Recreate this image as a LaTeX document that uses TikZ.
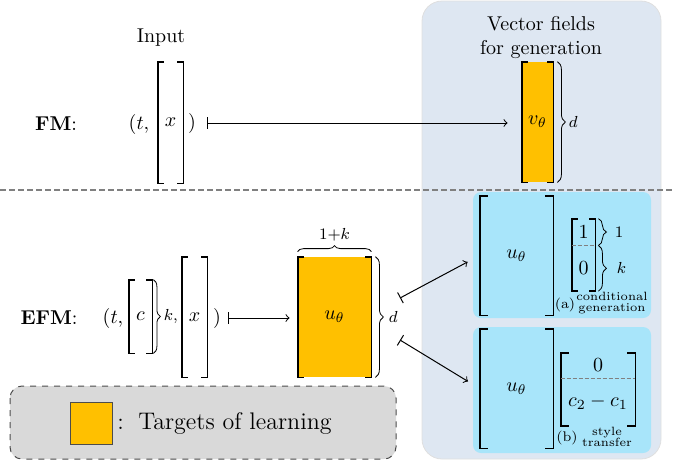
\documentclass[tikz,border=0pt]{standalone}
\usepackage{amsmath,amssymb}
\usetikzlibrary{arrows,calc,positioning,decorations.pathreplacing}

\definecolor{learn}{HTML}{FFC000}
\definecolor{fieldbg}{HTML}{DEE7F2}
\definecolor{casebg}{HTML}{A8E5FA}

% square brackets round a column, from node #2 (top) to node #3 (bottom)
\newcommand{\vbrackets}[3][3pt]{%
  \draw[bracket] ([xshift=#1]#2.north west) -- (#2.north west) -- (#3.south west) -- ([xshift=#1]#3.south west);
  \draw[bracket] ([xshift=-#1]#2.north east) -- (#2.north east) -- (#3.south east) -- ([xshift=-#1]#3.south east);}

\begin{document}
\begin{tikzpicture}[x=0.5pt,y=-0.5pt,>=to,
  vec/.style 2 args={inner sep=0pt, minimum width=#1, minimum height=#2},
  bracket/.style={line width=0.9pt},
  brace/.style={decorate, decoration={brace,amplitude=#1}},
  brace/.default=4pt,
  lab/.style={inner sep=1pt, font=\footnotesize},
  caption/.style={inner sep=0pt, align=center, font=\fontsize{6}{7}\selectfont},
  tag/.style={inner sep=0pt, font=\fontsize{7}{8}\selectfont},
  split/.style={gray, dash pattern=on 2pt off 1pt, line width=0.6pt},
  maps/.style={|->, line width=0.5pt}]
  \useasboundingbox (0,0) rectangle (673,463);

  % panel of vector fields and the two rows
  \draw[fill=fieldbg, draw=gray!25, rounded corners=10pt] (422,1) rectangle (661,459);
  \draw[gray, dash pattern=on 3pt off 1.5pt, line width=0.6pt] (0,190) -- (673,190);
  \fill[casebg, rounded corners=4pt] (473,192) rectangle (651,318);
  \fill[casebg, rounded corners=4pt] (473,327) rectangle (651,453);

  \node (input) at (161,38) {Input};
  \node[align=center] (fields) at (541,37) {Vector fields\\for generation};

  % FM row
  \node (fm) at (56,124) {\textbf{FM}:};
  \node (fmt) at (139,124) {$(t,$};
  \node[vec={12.5pt}{60.5pt}] (fmx) at (170.5,122.5) {$x$};
  \node (fmrp) at (192,123) {$)$};
  \node[vec={15.5pt}{60pt}, fill=learn] (vt) at (537.5,122) {$v_\theta$};
  \vbrackets{fmx}{fmx}
  \vbrackets{vt}{vt}
  \draw[brace] ([xshift=2pt]vt.north east) -- ([xshift=2pt]vt.south east) node[midway, lab, right=4.5pt] {$d$};
  \draw[maps, shorten <=2pt, shorten >=7pt] (fmrp.east) -- (fmrp.east -| vt.west);

  % EFM row
  \node (efm) at (49,318) {\textbf{EFM}:};
  \node (eft) at (113,318) {$(t,$};
  \node[vec={11.5pt}{36.5pt}] (efc) at (140.5,316.5) {$c$};
  \node[vec={12.5pt}{60pt}] (efx) at (194.5,317) {$x$};
  \node (efrp) at (217,318) {$)$};
  \node[vec={36.5pt}{60pt}, fill=learn] (ut) at (334.5,317) {$u_\theta$};
  \vbrackets{efc}{efc}
  \vbrackets{efx}{efx}
  \vbrackets{ut}{ut}
  \draw[brace=3.5pt] ([xshift=0.5pt]efc.north east) -- ([xshift=0.5pt]efc.south east) node[midway, lab, right=4pt] {$k,$};
  \draw[brace=3pt] ([yshift=2.5pt]ut.north west) -- ([yshift=2.5pt]ut.north east) node[midway, lab, above=4pt] {$1{+}k$};
  \draw[brace] ([xshift=2pt]ut.north east) -- ([xshift=2pt]ut.south east) node[midway, lab, right=5.5pt] (d) {$d$};
  \draw[maps, shorten >=4pt] (efrp.east) -- (efrp.east -| ut.west);

  % (a) conditional generation
  \node[vec={36.5pt}{59.5pt}] (ua) at (516.5,255.5) {$u_\theta$};
  \node[vec={11.5pt}{13pt}] (va1) at (583.5,232) {$1$};
  \node[vec={11.5pt}{22.5pt}, below=0pt of va1] (va0) {$0$};
  \vbrackets[4pt]{ua}{ua}
  \vbrackets{va1}{va0}
  \draw[split] (va1.south west) -- (va1.south east);
  \draw[brace] ([xshift=1.5pt]va1.north east) -- ([xshift=1.5pt]va1.south east) node[midway, lab, right=7pt] {$1$};
  \draw[brace] ([xshift=1.5pt]va0.north east) -- ([xshift=1.5pt]va0.south east) node[midway, lab, right=8pt] {$k$};
  \node[tag] (capa) at (565,305) {(a)};
  \node[caption] (capatxt) at (612,303.5) {conditional\\[-1.5pt]generation};

  % (b) style transfer
  \node[vec={36.5pt}{59.5pt}] (ub) at (516.5,388.5) {$u_\theta$};
  \node[vec={37pt}{12.5pt}] (vb1) at (598,365.5) {$0$};
  \node[vec={37pt}{23.5pt}, below=0pt of vb1] (vb0) {$c_2-c_1$};
  \vbrackets[4pt]{ub}{ub}
  \vbrackets[4pt]{vb1}{vb0}
  \draw[split] (vb1.south west) -- (vb1.south east);
  \node[tag] (capb) at (567,438) {(b)};
  \node[caption] (capbtxt) at (607,437) {style\\[-1.5pt]transfer};

  % from the learned field to the two uses
  \coordinate (dup) at (400,298);
  \coordinate (ddown) at (400,340);
  \draw[maps, shorten >=6.8pt] (dup) -- (ua.west);
  \draw[maps, shorten >=6.8pt] (ddown) -- (ub.west);

  % legend
  \draw[rounded corners=6pt, dashed, fill=gray!30, draw=gray!60!black, line width=0.5pt] (10,386) rectangle (396,459);
  \node[fill=learn, draw=black!70, minimum size=21pt, inner sep=0pt] (sq) at (91.5,423) {};
  \node[right=2pt of sq, font=\large, inner sep=0pt] (legtxt) {:\, Targets of learning};
\end{tikzpicture}
\end{document}
